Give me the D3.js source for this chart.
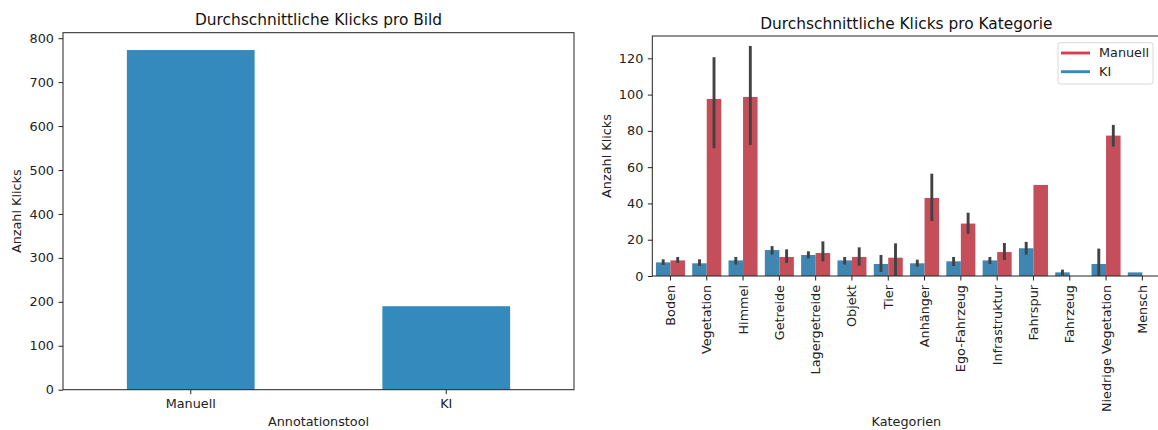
<!DOCTYPE html>
<html>
<head>
<meta charset="utf-8">
<script src="https://cdn.jsdelivr.net/npm/d3@7"></script>
<style>
  body { margin: 0; background: #fff; }
  svg { display: block; font-family: "DejaVu Sans", sans-serif; }
  .tick text { fill: #222; font-size: 12.8px; font-family: "DejaVu Sans", sans-serif; }
  .tick line { stroke: #222; stroke-width: 1; }
</style>
</head>
<body>
<div id="plt"></div>
<script>
// Left chart: average clicks per image
const tools = ["Manuell", "KI"];
const toolClicks = [773, 190];

// Right chart: average clicks per category (mean + 95% CI), null = no data
const categories = ["Boden", "Vegetation", "Himmel", "Getreide", "Lagergetreide", "Objekt", "Tier",
  "Anhänger", "Ego-Fahrzeug", "Infrastruktur", "Fahrspur", "Fahrzeug", "Niedrige Vegetation", "Mensch"];
const kiMean = [7.5, 7.0, 8.6, 14.3, 11.6, 8.6, 6.6, 7.0, 8.1, 8.6, 15.3, 2.0, 6.6, 2.0];
const kiLow  = [6.1, 5.5, 6.3, 11.8, 9.7, 6.3, 2.2, 5.1, 5.5, 6.6, 11.8, 0.5, 0.0, null];
const kiHigh = [9.2, 9.2, 10.5, 16.5, 13.6, 10.5, 11.6, 9.0, 10.5, 10.5, 18.8, 3.5, 15.1, null];
const manMean = [8.6, 97.6, 98.7, 10.5, 12.7, 10.5, 10.1, 43.0, 28.9, 13.2, 50.2, null, 77.4, null];
const manLow  = [7.2, 70.4, 72.2, 7.2, 8.1, 5.7, 0.0, 30.3, 23.3, 8.8, null, null, 71.3, null];
const manHigh = [10.5, 120.6, 126.8, 14.7, 19.1, 15.8, 18.0, 56.4, 34.9, 18.2, null, null, 83.3, null];

const leftTicks = d3.range(0, 801, 100);
const rightTicks = d3.range(0, 121, 20);

const colors = { leftBar: "#348abd", ki: "#3f86b0", man: "#c44e5a", kiLegend: "#348abd", manLegend: "#d93c50", err: "#424242" };

const svg = d3.select("#plt").append("svg")
    .attr("width", 1158)
    .attr("height", 430);

// ---------- left chart ----------
const L = { left: 63, right: 574, top: 32.7, bottom: 389.7 };

const xL = d3.scaleBand().domain(tools).range([L.left, L.right]).paddingInner(0.5).paddingOuter(0.25);
const yL = d3.scaleLinear().domain([0, 812.5]).range([L.bottom, L.top]);

const gL = svg.append("g");

gL.selectAll("rect.bar")
    .data(tools)
    .enter()
    .append("rect")
    .attr("class", "bar")
    .attr("x", d => xL(d))
    .attr("width", xL.bandwidth())
    .attr("y", (d, i) => yL(toolClicks[i]))
    .attr("height", (d, i) => yL(0) - yL(toolClicks[i]))
    .attr("fill", colors.leftBar);

gL.append("g")
    .attr("transform", `translate(${L.left},0)`)
    .call(d3.axisLeft(yL).tickValues(leftTicks).tickSize(4.5).tickPadding(4.5))
    .call(g => g.select(".domain").remove());

gL.append("g")
    .attr("transform", `translate(0,${L.bottom})`)
    .call(d3.axisBottom(xL).tickSize(4.5).tickPadding(4.5))
    .call(g => g.select(".domain").remove());

gL.append("rect")
    .attr("x", L.left).attr("y", L.top)
    .attr("width", L.right - L.left).attr("height", L.bottom - L.top)
    .attr("fill", "none").attr("stroke", "#222").attr("stroke-width", 1);

gL.append("text")
    .attr("x", (L.left + L.right) / 2).attr("y", 25)
    .attr("text-anchor", "middle").attr("font-size", 15.4).attr("fill", "#111")
    .text("Durchschnittliche Klicks pro Bild");

gL.append("text")
    .attr("x", (L.left + L.right) / 2).attr("y", 426)
    .attr("text-anchor", "middle").attr("font-size", 12.8).attr("fill", "#222")
    .text("Annotationstool");

gL.append("text")
    .attr("transform", `translate(20.5,${(L.top + L.bottom) / 2}) rotate(-90)`)
    .attr("text-anchor", "middle").attr("font-size", 12.8).attr("fill", "#222")
    .text("Anzahl Klicks");

// ---------- right chart ----------
const R = { left: 652.3, right: 1160.5, top: 36, bottom: 276 };

const xR = d3.scaleBand().domain(categories).range([R.left, R.right]);
const xHue = d3.scaleBand().domain(["KI", "Manuell"]).range([0.1 * xR.bandwidth(), 0.9 * xR.bandwidth()]);
const yR = d3.scaleLinear().domain([0, 132.3]).range([R.bottom, R.top]);

const gR = svg.append("g");

const rows = categories.map((c, i) => [
  { cat: c, hue: "KI", mean: kiMean[i], lo: kiLow[i], hi: kiHigh[i], color: colors.ki },
  { cat: c, hue: "Manuell", mean: manMean[i], lo: manLow[i], hi: manHigh[i], color: colors.man }
]).flat().filter(d => d.mean !== null);

gR.selectAll("rect.bar")
    .data(rows)
    .enter()
    .append("rect")
    .attr("class", "bar")
    .attr("x", d => xR(d.cat) + xHue(d.hue))
    .attr("width", xHue.bandwidth())
    .attr("y", d => yR(d.mean))
    .attr("height", d => yR(0) - yR(d.mean))
    .attr("fill", d => d.color);

// error bars
gR.selectAll("line.err")
    .data(rows.filter(d => d.lo !== null))
    .enter()
    .append("line")
    .attr("class", "err")
    .attr("x1", d => xR(d.cat) + xHue(d.hue) + xHue.bandwidth() / 2)
    .attr("x2", d => xR(d.cat) + xHue(d.hue) + xHue.bandwidth() / 2)
    .attr("y1", d => yR(d.lo))
    .attr("y2", d => yR(d.hi))
    .attr("stroke", colors.err)
    .attr("stroke-width", 2.9);

gR.append("g")
    .attr("transform", `translate(${R.left},0)`)
    .call(d3.axisLeft(yR).tickValues(rightTicks).tickSize(4.5).tickPadding(4.5))
    .call(g => g.select(".domain").remove());

gR.append("g")
    .attr("transform", `translate(0,${R.bottom})`)
    .call(d3.axisBottom(xR).tickSize(4.5).tickPadding(4.5))
    .call(g => g.select(".domain").remove())
    .call(g => g.selectAll(".tick text")
        .attr("transform", "rotate(-90)")
        .attr("text-anchor", "end")
        .attr("x", -9)
        .attr("y", 0)
        .attr("dy", "0.35em"));

gR.append("rect")
    .attr("x", R.left).attr("y", R.top)
    .attr("width", R.right - R.left).attr("height", R.bottom - R.top)
    .attr("fill", "none").attr("stroke", "#222").attr("stroke-width", 1);

gR.append("text")
    .attr("x", (R.left + R.right) / 2).attr("y", 28.5)
    .attr("text-anchor", "middle").attr("font-size", 15.4).attr("fill", "#111")
    .text("Durchschnittliche Klicks pro Kategorie");

gR.append("text")
    .attr("x", (R.left + R.right) / 2).attr("y", 426)
    .attr("text-anchor", "middle").attr("font-size", 12.8).attr("fill", "#222")
    .text("Kategorien");

gR.append("text")
    .attr("transform", `translate(610.5,${(R.top + R.bottom) / 2}) rotate(-90)`)
    .attr("text-anchor", "middle").attr("font-size", 12.8).attr("fill", "#222")
    .text("Anzahl Klicks");

// legend
const legendItems = [{ name: "Manuell", color: colors.manLegend }, { name: "KI", color: colors.kiLegend }];
const lg = gR.append("g").attr("transform", "translate(1058,42.7)");
lg.append("rect")
    .attr("width", 95).attr("height", 41.3)
    .attr("rx", 2.5)
    .attr("fill", "#fff").attr("fill-opacity", 0.8)
    .attr("stroke", "#d4d4d4").attr("stroke-width", 0.9);
const li = lg.selectAll("g.item")
    .data(legendItems)
    .enter()
    .append("g")
    .attr("transform", (d, i) => `translate(0,${10.3 + i * 18.7})`);
li.append("line")
    .attr("x1", 3).attr("x2", 32)
    .attr("stroke", d => d.color).attr("stroke-width", 2.9);
li.append("text")
    .attr("x", 41).attr("dy", "0.35em")
    .attr("font-size", 12.8).attr("fill", "#222")
    .text(d => d.name);
</script>
</body>
</html>
